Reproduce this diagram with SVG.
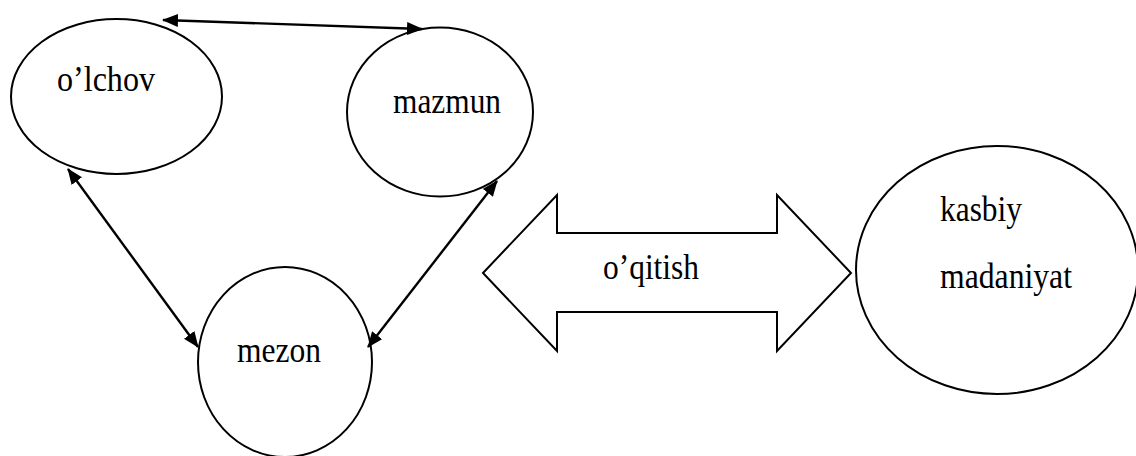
<svg xmlns="http://www.w3.org/2000/svg" width="1136" height="456" viewBox="0 0 1136 456">
<style>
.node{fill:#fff;stroke:#000;stroke-width:2}
.lbl{font-family:'Liberation Serif','Times New Roman','DejaVu Serif',serif;font-size:35px;fill:#000}
.conn{stroke:#000;stroke-width:2.4;fill:none;marker-start:url(#ah);marker-end:url(#ah)}
.block{fill:#fff;stroke:#000;stroke-width:2;stroke-linejoin:miter}
</style>
<defs>
<marker id="ah" viewBox="0 0 16 13" refX="15" refY="6.5" markerWidth="16" markerHeight="13" markerUnits="userSpaceOnUse" orient="auto-start-reverse">
<path d="M0,0 L16,6.5 L0,13 z" fill="#000"/>
</marker>
</defs>
<rect width="1136" height="456" fill="#fff"/>
<g id="node-olchov">
<ellipse class="node" cx="116.5" cy="96.5" rx="105.5" ry="77.5"/>
<text class="lbl" x="57" y="91" textLength="98" lengthAdjust="spacingAndGlyphs">o’lchov</text>
</g>
<g id="node-mazmun">
<ellipse class="node" cx="440" cy="112" rx="93" ry="84.5"/>
<text class="lbl" x="393" y="113" textLength="108" lengthAdjust="spacingAndGlyphs">mazmun</text>
</g>
<g id="node-mezon">
<ellipse class="node" cx="285" cy="362" rx="87" ry="95"/>
<text class="lbl" x="237" y="362" textLength="84" lengthAdjust="spacingAndGlyphs">mezon</text>
</g>
<g id="node-oqitish">
<path class="block" d="M483,273 L557,195 L557,233 L777,233 L777,195 L851,273 L777,351 L777,312 L557,312 L557,351 Z"/>
<text class="lbl" x="603" y="279" textLength="96" lengthAdjust="spacingAndGlyphs">o’qitish</text>
</g>
<g id="node-kasbiy">
<ellipse class="node" cx="997" cy="270" rx="141" ry="124"/>
<text class="lbl" x="940" y="221" textLength="82" lengthAdjust="spacingAndGlyphs">kasbiy</text>
<text class="lbl" x="940" y="288" textLength="132" lengthAdjust="spacingAndGlyphs">madaniyat</text>
</g>
<g id="connectors">
<line class="conn" x1="163" y1="20" x2="422" y2="29"/>
<line class="conn" x1="68" y1="169" x2="198" y2="347"/>
<line class="conn" x1="497" y1="181" x2="368" y2="347"/>
</g>
</svg>
